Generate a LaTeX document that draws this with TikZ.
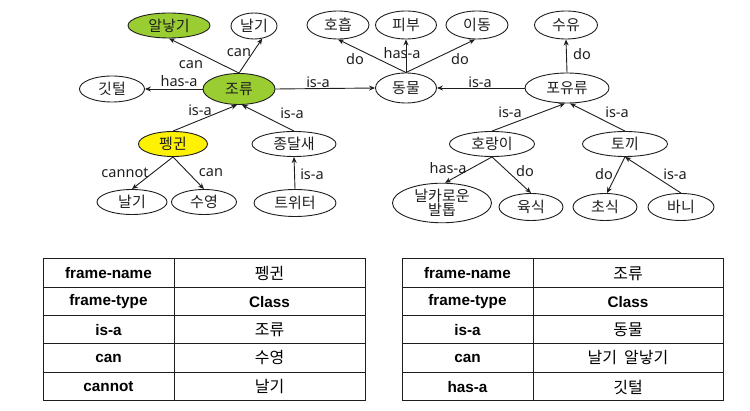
\documentclass[tikz,border=0pt]{standalone}
\usepackage{fontspec}
\setmainfont{Noto Sans}
\newfontfamily\kr{Noto Sans CJK KR}
\newfontfamily\tbl{Liberation Sans}
\usetikzlibrary{shapes.geometric,arrows.meta,calc}
\definecolor{ygreen}{RGB}{154,205,50}
\definecolor{ink}{RGB}{30,30,30}
\begin{document}
\begin{tikzpicture}[x=1pt,y=-1pt,
  ell/.style={ellipse,draw=ink,line width=0.9pt,inner sep=0pt,font=\kr\fontsize{15}{15}\selectfont,text=ink,minimum height=26pt},
  conn/.style={-{Stealth[length=6pt,width=5pt]},line width=0.9pt,draw=ink},
  lab/.style={font=\fontsize{14.5}{15}\selectfont,inner sep=0pt,text=ink},
  grid/.style={line width=1pt,draw=ink},
  th/.style={font=\tbl\bfseries\fontsize{15.3}{16}\selectfont,text=black,inner sep=0pt},
  td/.style={font=\kr\fontsize{16}{16}\selectfont,text=black,inner sep=0pt}]
\useasboundingbox (0,0) rectangle (750,411);
% nodes
\node[ell,minimum width=82pt,minimum height=25pt,fill=ygreen] (egg) at (169,25.5) {알낳기};
\node[ell,minimum width=46pt] (fly1) at (254,26) {날기};
\node[ell,minimum width=62pt,minimum height=28pt] (breath) at (338,25) {호흡};
\node[ell,minimum width=61pt,minimum height=28pt] (skin) at (406,25) {피부};
\node[ell,minimum width=62pt,minimum height=28pt] (move) at (477,25) {이동};
\node[ell,minimum width=63pt,minimum height=28pt] (milk) at (566,25) {수유};
\node[ell,minimum width=65pt] (feather) at (112,89) {깃털};
\node[ell,minimum width=72pt,minimum height=31pt,fill=ygreen] (birds) at (239,89) {조류};
\node[ell,minimum width=61pt,minimum height=30pt] (animal) at (406,88) {동물};
\node[ell,minimum width=84pt,minimum height=30pt] (mammal) at (567,88) {포유류};
\node[ell,minimum width=69pt,minimum height=25pt,fill=yellow] (penguin) at (173,144) {펭귄};
\node[ell,minimum width=84pt,minimum height=25pt] (lark) at (294,144) {종달새};
\node[ell,minimum width=85pt,minimum height=25pt] (tiger) at (492,144) {호랑이};
\node[ell,minimum width=85pt,minimum height=25pt] (rabbit) at (625,144) {토끼};
\node[ell,minimum width=70pt,minimum height=25pt] (fly2) at (132,202) {날기};
\node[ell,minimum width=65pt,minimum height=25pt] (swim) at (204,202) {수영};
\node[ell,minimum width=82pt,minimum height=27pt] (twitter) at (295,203) {트위터};
\node[ell,minimum width=99pt,minimum height=37pt,align=center,font=\kr\fontsize{15}{10}\selectfont] (claw) at (442,203) {날카로운\\발톱};
\node[ell,minimum width=64pt,minimum height=27pt] (meat) at (531,207) {육식};
\node[ell,minimum width=64pt,minimum height=27pt] (herb) at (605,207) {초식};
\node[ell,minimum width=66pt,minimum height=27pt] (bunny) at (681,207) {바니};
% connectors
\draw[conn] (birds.north) -- (egg.south);
\draw[conn] (birds.north) -- (fly1.-57);
\draw[conn] (birds.west) -- (feather.east);
\draw[conn] (birds.east) -- (animal.west);
\draw[conn] (penguin.north) -- ($(birds.south)+(-2,0)$);
\draw[conn] (lark.north) -- ($(birds.south)+(3,0)$);
\draw[conn] (penguin.south) -- (fly2.north);
\draw[conn] (penguin.south) -- (swim.north);
\draw[conn] (twitter.north) -- (lark.south);
\draw[conn] (animal.north) -- (breath.south);
\draw[conn] (animal.north) -- (skin.south);
\draw[conn] (animal.north) -- ($(move.south)+(-2,0)$);
\draw[conn] (mammal.west) -- (animal.east);
\draw[conn] (mammal.north) -- (milk.south);
\draw[conn] (tiger.north) -- ($(mammal.south)+(-2,0)$);
\draw[conn] (rabbit.north) -- ($(mammal.south)+(3,0)$);
\draw[conn] (tiger.south) -- ($(claw.north)+(3,0)$);
\draw[conn] (tiger.south) -- (meat.north);
\draw[conn] (rabbit.south) -- ($(herb.north)+(2,0)$);
\draw[conn] (bunny.north) -- (rabbit.south);
% labels
\node[lab] (l1) at (191,65) {can};
\node[lab] (l2) at (239,53) {can};
\node[lab] (l3) at (179,81) {has-a};
\node[lab] (l4) at (318,82) {is-a};
\node[lab] (l5) at (200,110) {is-a};
\node[lab] (l6) at (292,113) {is-a};
\node[lab] (l7) at (125,173) {cannot};
\node[lab] (l8) at (211,173) {can};
\node[lab] (l9) at (312,174) {is-a};
\node[lab] (l10) at (355,59) {do};
\node[lab] (l11) at (402,53) {has-a};
\node[lab] (l12) at (460,59) {do};
\node[lab] (l13) at (480,82) {is-a};
\node[lab] (l14) at (582,54) {do};
\node[lab] (l15) at (510,112) {is-a};
\node[lab] (l16) at (617,112) {is-a};
\node[lab] (l17) at (448,168) {has-a};
\node[lab] (l18) at (525,171) {do};
\node[lab] (l19) at (604,174) {do};
\node[lab] (l20) at (675,174) {is-a};
% left table
\draw[grid] (43,259) rectangle (365,401);
\draw[grid] (174,259) -- (174,401);
\foreach \yy in {287.5,316,344,372.5} \draw[grid] (43,\yy) -- (365,\yy);
\node[th] (a1) at (108.5,273.5) {frame-name};
\node[th] (a2) at (108.5,302) {frame-type};
\node[th] (a3) at (108.5,330) {is-a};
\node[th] (a4) at (108.5,358) {can};
\node[th] (a5) at (108.5,387) {cannot};
\node[td] (b1) at (269.5,273.5) {펭귄};
\node[th] (b2) at (269.5,302) {Class};
\node[td] (b3) at (269.5,330) {조류};
\node[td] (b4) at (269.5,358) {수영};
\node[td] (b5) at (269.5,387) {날기};
% right table
\draw[grid] (402,259) rectangle (723,401);
\draw[grid] (533,259) -- (533,401);
\foreach \yy in {287.5,316,344,372.5} \draw[grid] (402,\yy) -- (723,\yy);
\node[th] (c1) at (467.5,273.5) {frame-name};
\node[th] (c2) at (467.5,302) {frame-type};
\node[th] (c3) at (467.5,330) {is-a};
\node[th] (c4) at (467.5,358) {can};
\node[th] (c5) at (467.5,387) {has-a};
\node[td] (d1) at (628,273.5) {조류};
\node[th] (d2) at (628,302) {Class};
\node[td] (d3) at (628,330) {동물};
\node[td] (d4) at (628,358) {날기\ \ 알낳기};
\node[td] (d5) at (628,387) {깃털};
\end{tikzpicture}
\end{document}
